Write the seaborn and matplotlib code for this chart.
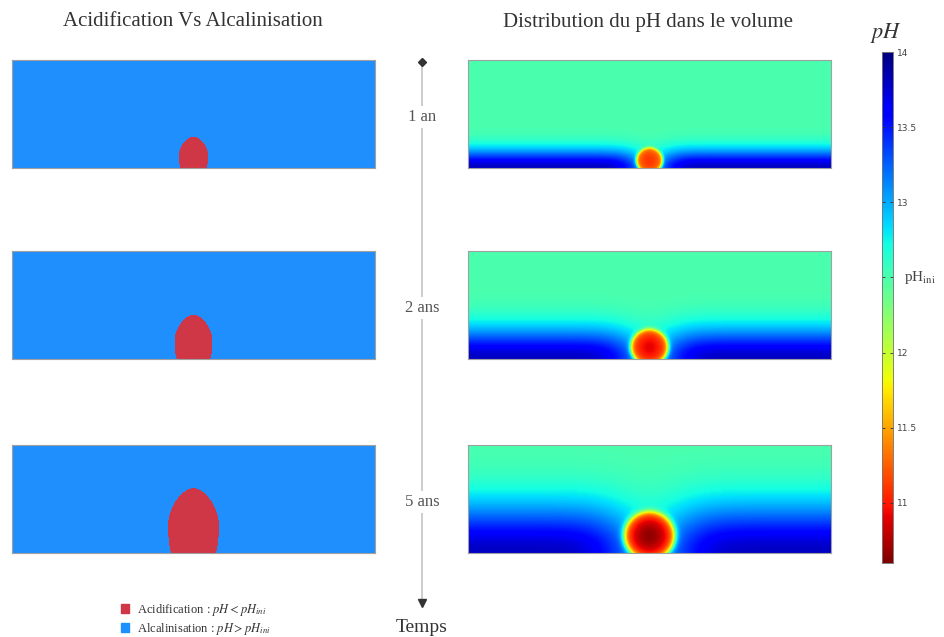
import numpy as np
import matplotlib
matplotlib.use("Agg")
import matplotlib.pyplot as plt
from matplotlib.colors import ListedColormap
from matplotlib.patches import Patch
import seaborn as sns

# values (lengths in units of the panel height)
times = ["1 an", "2 ans", "5 ans"]
egg_halfwidth = [0.14, 0.18, 0.24]      # acidified zone, left panels
egg_widest = [0.11, 0.16, 0.25]
egg_top = [0.29, 0.41, 0.60]
acid_radius = [0.12, 0.17, 0.23]        # red core, right panels
acid_center = [0.07, 0.11, 0.16]
acid_core_ph = [11.1, 10.9, 10.65]
alk_depth = [0.17, 0.28, 0.45]          # alkaline front
ph_ini = 12.5
ph_bottom = 13.8
ph_min, ph_max = 10.6, 14.0
cbar_ticks = [11, 11.5, 12, 12.5, 13, 13.5, 14]
cbar_labels = ["11", "11.5", "12", "", "13", "13.5", "14"]

red = "#cf3646"
blue = "#1e8ffd"

plt.rcParams["font.family"] = ["Liberation Serif", "DejaVu Serif"]
plt.rcParams["mathtext.fontset"] = "stix"

W, H = 944, 637
fig = plt.figure(figsize=(W / 100, H / 100), dpi=100)

ny, nx = 108, 364
yy = 1 - (np.arange(ny) + 0.5) / ny
xx = ((np.arange(nx) + 0.5) / nx - 0.5) * 363 / ny
X, Y = np.meshgrid(xx, yy)

tops = [60, 251, 445]
cax = fig.add_axes([882 / W, 1 - 563 / H, 11 / W, 511 / H])


def frame(ax):
    for s in ax.spines.values():
        s.set_visible(True)
        s.set_color("#a0a0a0")
        s.set_linewidth(0.8)


for k, t in enumerate(tops):
    b = 1 - (t + 108) / H
    axl = fig.add_axes([12 / W, b, 363 / W, 108 / H])
    axr = fig.add_axes([468 / W, b, 363 / W, 108 / H])

    # left: acidified (pH < pH_ini) vs alkalinised zone
    yc = egg_widest[k]
    dy = np.where(Y > yc, (Y - yc) / (egg_top[k] - yc), (Y - yc) / (2.2 * yc))
    up = np.clip(dy, 0, None)
    half = egg_halfwidth[k] * np.sqrt(np.clip(1 - dy ** 2, 0, None)) * (1 - 0.15 * up ** 2)
    acid = (np.abs(X) < half).astype(float)
    sns.heatmap(acid, ax=axl, cmap=ListedColormap([blue, red]), vmin=0, vmax=1,
                cbar=False, xticklabels=False, yticklabels=False, rasterized=True)
    frame(axl)

    # right: pH field
    R = acid_radius[k]
    plume = 1 - 0.6 * np.exp(-(X / (1.8 * R)) ** 2)
    bg = ph_ini + (ph_bottom - ph_ini) * np.exp(-(Y / alk_depth[k]) ** 2) * plume
    rho = np.sqrt((X / 1.05) ** 2 + (Y - acid_center[k]) ** 2) / R
    w = 1 / (1 + np.exp((rho - 1) / 0.07))
    acid_ph = acid_core_ph[k] + (11.4 - acid_core_ph[k]) * np.clip(rho, 0, 1) ** 2
    ph = (1 - w) * bg + w * acid_ph
    sns.heatmap(ph, ax=axr, cmap="jet_r", vmin=ph_min, vmax=ph_max,
                cbar=(k == 0), cbar_ax=cax if k == 0 else None,
                xticklabels=False, yticklabels=False, rasterized=True)
    frame(axr)

# colour bar
cax.set_yticks(cbar_ticks)
cax.set_yticklabels(cbar_labels, fontfamily="DejaVu Sans")
cax.tick_params(axis="y", labelsize=6.5, labelcolor="#444", length=2, width=0.6,
                direction="in", left=True, right=True, color="#333", pad=3)
for s in cax.spines.values():
    s.set_visible(True)
    s.set_color("#777")
    s.set_linewidth(0.5)
cax.text(2.0, ph_ini, r"pH$_{\mathrm{ini}}$", transform=cax.get_yaxis_transform(),
         fontsize=11, color="#444", va="center", ha="left")
fig.text(886 / W, 1 - 33 / H, "$pH$", fontsize=16, color="#333", ha="center", va="center")

# titles
fig.text(193 / W, 1 - 22 / H, "Acidification Vs Alcalinisation", fontsize=15,
         color="#333", ha="center", va="center")
fig.text(648 / W, 1 - 22 / H, "Distribution du pH dans le volume", fontsize=15,
         color="#333", ha="center", va="center")

# time axis
ov = fig.add_axes([0, 0, 1, 1], zorder=-1)
ov.set_xlim(0, W)
ov.set_ylim(H, 0)
ov.axis("off")
ov.plot([422, 422], [62, 600], color="#c4c4c4", lw=1.2)
ov.plot(422, 62, marker="D", ms=4.5, color="#333")
ov.plot(422, 603, marker="v", ms=6, color="#333")
for k, lab in enumerate(times):
    ov.text(422, tops[k] + 57, lab, fontsize=12, color="#555", ha="center", va="center",
            bbox=dict(facecolor="white", edgecolor="none", pad=2))
ov.text(422, 627, "Temps", fontsize=14, color="#333", ha="center", va="center")

# legend
handles = [Patch(color=red, label=r"Acidification : $pH < pH_{ini}$"),
           Patch(color=blue, label=r"Alcalinisation : $pH > pH_{ini}$")]
fig.legend(handles=handles, loc="upper left", bbox_to_anchor=(113 / W, 1 - 594 / H),
           frameon=False, fontsize=9, handlelength=0.7, handleheight=0.7,
           handletextpad=0.6, labelspacing=0.25, borderpad=0.1, labelcolor="#333")

fig.savefig("out.png", dpi=100)
